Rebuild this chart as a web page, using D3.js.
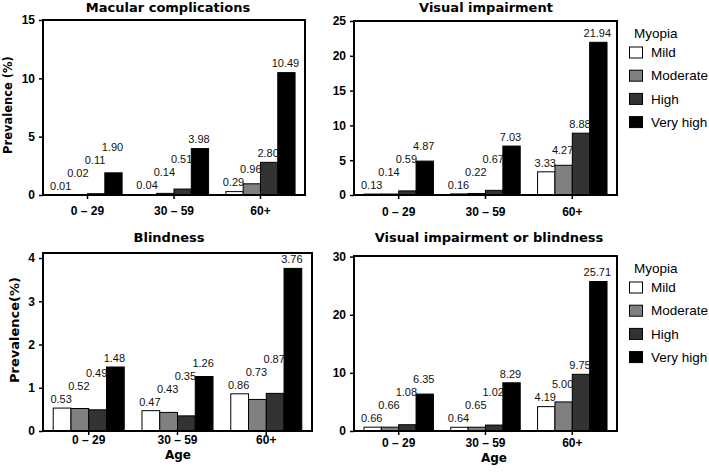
<!DOCTYPE html>
<html>
<head>
<meta charset="utf-8">
<script src="https://cdn.jsdelivr.net/npm/d3@7"></script>
<style>
  html, body { margin: 0; padding: 0; background: #fff; }
  svg { display: block; }
</style>
</head>
<body>
<svg id="chart" width="709" height="472"></svg>
<script>
// ---------- data ----------
const ageGroups = ["0 – 29", "30 – 59", "60+"];
const myopiaLevels = ["Mild", "Moderate", "High", "Very high"];
const levelColors = ["#ffffff", "#808080", "#333333", "#000000"];

// values per age group, in myopia level order
const macularValues = [[0.01, 0.02, 0.11, 1.90], [0.04, 0.14, 0.51, 3.98], [0.29, 0.96, 2.80, 10.49]];
const visualValues = [[0.13, 0.14, 0.59, 4.87], [0.16, 0.22, 0.67, 7.03], [3.33, 4.27, 8.88, 21.94]];
const blindValues = [[0.53, 0.52, 0.49, 1.48], [0.47, 0.43, 0.35, 1.26], [0.86, 0.73, 0.87, 3.76]];
const viOrBlindValues = [[0.66, 0.66, 1.08, 6.35], [0.64, 0.65, 1.02, 8.29], [4.19, 5.00, 9.75, 25.71]];

const macularTicks = [0, 5, 10, 15];
const visualTicks = [0, 5, 10, 15, 20, 25];
const blindTicks = [0, 1, 2, 3, 4];
const viOrBlindTicks = [0, 10, 20, 30];

// ---------- layout ----------
const panels = [
  { title: "Macular complications", values: macularValues, ticks: macularTicks, yMax: 15,
    x0: 43, x1: 305, yTop: 20, yBot: 195, titleX: 168, titleY: 12,
    yLabel: "Prevalence (%)", yLabelX: 12, yLabelY: 105, yLabelSize: 11.5,
    xLabelDy: 20, legend: false, age: false },
  { title: "Visual impairment", values: visualValues, ticks: visualTicks, yMax: 25,
    x0: 354, x1: 617, yTop: 21, yBot: 195, titleX: 486, titleY: 12,
    yLabel: null, xLabelDy: 21, legend: true, legendY: 33, age: false },
  { title: "Blindness", values: blindValues, ticks: blindTicks, yMax: 4.116,
    x0: 43, x1: 312, yTop: 253, yBot: 431, titleX: 169, titleY: 242,
    yLabel: "Prevalence(%)", yLabelX: 19, yLabelY: 330, yLabelSize: 13,
    xLabelDy: 13, legend: false, age: true, ageX: 178, ageY: 459 },
  { title: "Visual impairment or blindness", values: viOrBlindValues, ticks: viOrBlindTicks, yMax: 30.1,
    x0: 354, x1: 617, yTop: 256, yBot: 431, titleX: 489, titleY: 242,
    yLabel: null, xLabelDy: 16, legend: true, legendY: 268, age: true, ageX: 494, ageY: 462 }
];

const svg = d3.select("#chart");
const boldSans = "'DejaVu Sans', Verdana, sans-serif";
const arial = "'Liberation Sans', Arial, sans-serif";

panels.forEach(p => {
  const g = svg.append("g");

  const x = d3.scaleBand().domain(ageGroups).range([p.x0, p.x1])
    .paddingInner(0.2).paddingOuter(0.115);
  const xi = d3.scaleBand().domain(myopiaLevels).range([0, x.bandwidth()]);
  const y = d3.scaleLinear().domain([0, p.yMax]).range([p.yBot, p.yTop]);

  // bars
  const groups = g.selectAll("g.grp").data(p.values).join("g")
    .attr("class", "grp")
    .attr("transform", (d, i) => `translate(${x(ageGroups[i])},0)`);

  groups.selectAll("rect").data(d => d).join("rect")
    .attr("x", (d, j) => xi(myopiaLevels[j]))
    .attr("width", xi.bandwidth())
    .attr("y", d => y(d))
    .attr("height", d => y(0) - y(d))
    .attr("fill", (d, j) => levelColors[j])
    .attr("stroke", "#000")
    .attr("stroke-width", 1);

  // value labels, staircased to avoid overlap
  groups.each(function (vals) {
    let prev = Infinity;
    const pos = vals.map(v => {
      const yy = Math.min(y(v) - 9, prev - 13);
      prev = yy;
      return yy;
    });
    d3.select(this).selectAll("text.val").data(vals).join("text")
      .attr("class", "val")
      .attr("x", (d, j) => xi(myopiaLevels[j]) + xi.bandwidth() / 2 - 1)
      .attr("y", (d, j) => pos[j])
      .attr("dy", "0.35em")
      .attr("text-anchor", "middle")
      .style("font-family", arial)
      .style("font-size", "11px")
      .attr("fill", "#111")
      .text(d => d.toFixed(2));
  });

  // frame
  g.append("rect")
    .attr("x", p.x0).attr("y", p.yTop)
    .attr("width", p.x1 - p.x0).attr("height", p.yBot - p.yTop)
    .attr("fill", "none").attr("stroke", "#000").attr("stroke-width", 2);

  // y axis
  const yAxis = g.append("g").attr("transform", `translate(${p.x0},0)`)
    .call(d3.axisLeft(y).tickValues(p.ticks).tickSize(4).tickPadding(4).tickFormat(d3.format("d")));
  yAxis.select(".domain").remove();
  yAxis.selectAll("line").attr("stroke", "#000").attr("stroke-width", 1.5);
  yAxis.selectAll("text").style("font-family", arial).style("font-size", "12px")
    .style("font-weight", "bold").attr("fill", "#000");

  // x axis
  const xAxis = g.append("g").attr("transform", `translate(0,${p.yBot})`)
    .call(d3.axisBottom(x).tickSize(4).tickPadding(p.xLabelDy - 12));
  xAxis.select(".domain").remove();
  xAxis.selectAll("line").attr("stroke", "#000").attr("stroke-width", 1.5);
  xAxis.selectAll("text").attr("dy", "0").attr("y", p.xLabelDy)
    .style("font-family", arial).style("font-size", "12px")
    .style("font-weight", "bold").attr("fill", "#000");

  // title
  g.append("text").attr("x", p.titleX).attr("y", p.titleY)
    .attr("text-anchor", "middle")
    .style("font-family", boldSans).style("font-weight", "bold").style("font-size", "13px")
    .text(p.title);

  if (p.yLabel) {
    g.append("text")
      .attr("transform", `translate(${p.yLabelX},${p.yLabelY}) rotate(-90)`)
      .attr("text-anchor", "middle")
      .style("font-family", boldSans).style("font-weight", "bold").style("font-size", p.yLabelSize + "px")
      .text(p.yLabel);
  }

  if (p.age) {
    g.append("text").attr("x", p.ageX).attr("y", p.ageY)
      .attr("text-anchor", "middle")
      .style("font-family", boldSans).style("font-weight", "bold").style("font-size", "12px")
      .text("Age");
  }

  if (p.legend) {
    const lg = g.append("g").attr("transform", `translate(629,${p.legendY})`);
    lg.append("text").attr("x", 5).attr("y", 0).attr("dy", "0.35em")
      .style("font-family", arial).style("font-size", "13.5px").text("Myopia");
    const items = lg.selectAll("g.item").data(myopiaLevels).join("g")
      .attr("class", "item")
      .attr("transform", (d, i) => `translate(0,${19.5 + i * 23.2})`);
    items.append("rect").attr("x", 0.5).attr("y", -5.5).attr("width", 13).attr("height", 11)
      .attr("fill", (d, i) => levelColors[i]).attr("stroke", "#000").attr("stroke-width", 1);
    items.append("text").attr("x", 22).attr("y", 0).attr("dy", "0.35em")
      .style("font-family", arial).style("font-size", "13.5px").text(d => d);
  }
});
</script>
</body>
</html>
